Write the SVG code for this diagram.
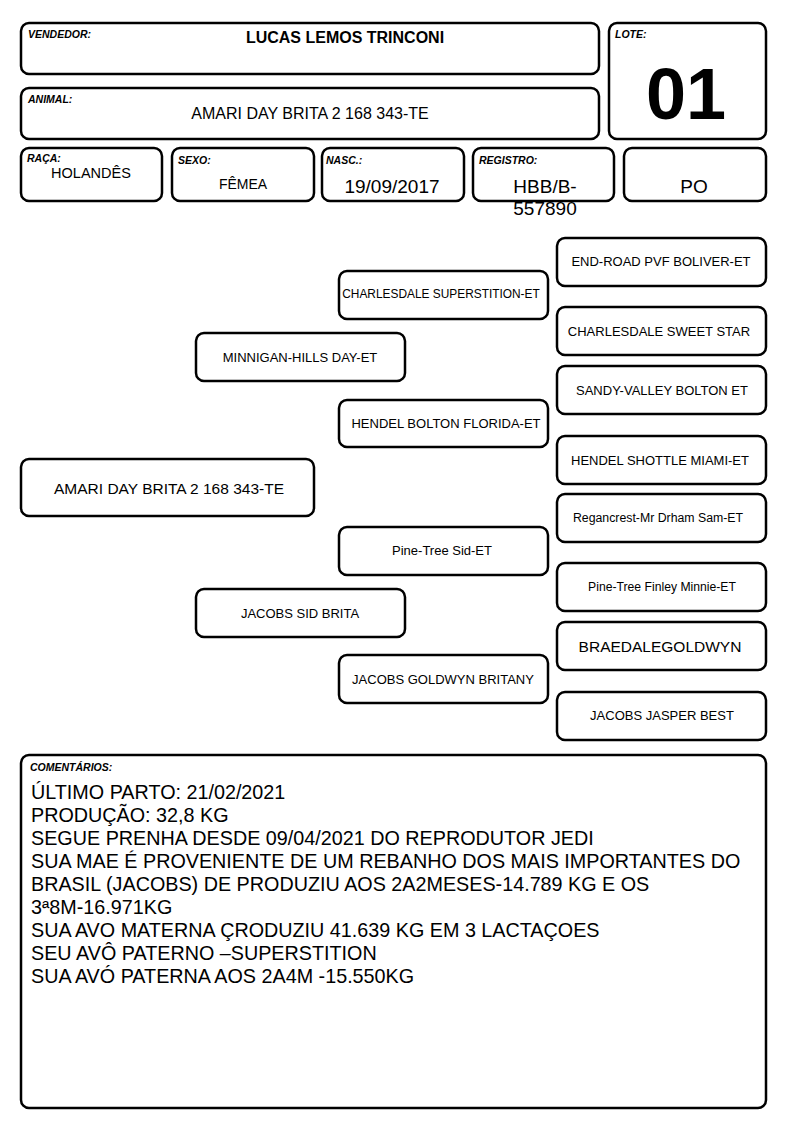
<svg xmlns="http://www.w3.org/2000/svg" width="794" height="1123" viewBox="0 0 794 1123">
<style>
.b{fill:#fff;stroke:#000;stroke-width:2.5}
.l{font-family:"Liberation Sans",Arial,sans-serif;font-size:10.5px;font-weight:bold;font-style:italic}
.t{font-family:"Liberation Sans",Arial,sans-serif;fill:#000}
.p{font-family:"Liberation Sans",Arial,sans-serif;font-size:13px;text-anchor:middle}
</style>
<rect width="794" height="1123" fill="#fff"/>
<g id="vendedor"><rect class="b" x="21" y="23" width="578" height="51" rx="8"/><text class="l" x="28" y="38">VENDEDOR:</text><text class="t" x="345" y="43" style="font-size:16px;font-weight:bold" text-anchor="middle">LUCAS LEMOS TRINCONI</text></g>
<g id="lote"><rect class="b" x="609" y="23" width="157" height="116" rx="8"/><text class="l" x="615" y="38">LOTE:</text><text class="t" x="686" y="119" style="font-size:72px;font-weight:bold" text-anchor="middle">01</text></g>
<g id="animal"><rect class="b" x="21" y="88" width="578" height="51" rx="8"/><text class="l" x="28" y="103">ANIMAL:</text><text class="t" x="310" y="119" style="font-size:16px" text-anchor="middle">AMARI DAY BRITA 2 168 343-TE</text></g>
<g id="raca"><rect class="b" x="21" y="148" width="141" height="53" rx="8"/><text class="l" x="27" y="162">RAÇA:</text><text class="t" x="91" y="178" style="font-size:14.5px" text-anchor="middle">HOLANDÊS</text></g>
<g id="sexo"><rect class="b" x="172" y="148" width="142" height="53" rx="8"/><text class="l" x="178" y="164">SEXO:</text><text class="t" x="243" y="189" style="font-size:14px" text-anchor="middle">FÊMEA</text></g>
<g id="nasc"><rect class="b" x="322" y="148" width="142" height="53" rx="8"/><text class="l" x="326" y="164">NASC.:</text><text class="t" x="392" y="193" style="font-size:19px" text-anchor="middle">19/09/2017</text></g>
<g id="registro"><rect class="b" x="473" y="148" width="141" height="53" rx="8"/><text class="l" x="479" y="164">REGISTRO:</text><text class="t" x="545" y="193" style="font-size:19px" text-anchor="middle">HBB/B-</text><text class="t" x="545" y="215" style="font-size:19px" text-anchor="middle">557890</text></g>
<g id="po"><rect class="b" x="624" y="148" width="142" height="53" rx="8"/><text class="t" x="694" y="193" style="font-size:19px" text-anchor="middle">PO</text></g>
<g id="connectors"></g>
<g id="amari"><rect class="b" x="21" y="459" width="293" height="57" rx="8"/><text class="p" x="169" y="494" style="font-size:15.5px">AMARI DAY BRITA 2 168 343-TE</text></g>
<g id="minnigan"><rect class="b" x="196" y="333" width="209" height="48" rx="8"/><text class="p" x="300" y="362">MINNIGAN-HILLS DAY-ET</text></g>
<g id="jacobs-sid-brita"><rect class="b" x="196" y="589" width="209" height="48" rx="8"/><text class="p" x="300" y="618">JACOBS SID BRITA</text></g>
<g id="superstition"><rect class="b" x="339" y="271" width="209" height="48" rx="8"/><text class="p" x="441" y="298" style="font-size:11.9px">CHARLESDALE SUPERSTITION-ET</text></g>
<g id="hendel-bolton"><rect class="b" x="339" y="400" width="209" height="47" rx="8"/><text class="p" x="446" y="428">HENDEL BOLTON FLORIDA-ET</text></g>
<g id="pine-tree-sid"><rect class="b" x="339" y="527" width="209" height="48" rx="8"/><text class="p" x="442" y="555">Pine-Tree Sid-ET</text></g>
<g id="jacobs-goldwyn"><rect class="b" x="339" y="655" width="209" height="48" rx="8"/><text class="p" x="443" y="684">JACOBS GOLDWYN BRITANY</text></g>
<g id="end-road"><rect class="b" x="557" y="238" width="209" height="48" rx="8"/><text class="p" x="661" y="266">END-ROAD PVF BOLIVER-ET</text></g>
<g id="sweet-star"><rect class="b" x="557" y="307" width="209" height="48" rx="8"/><text class="p" x="659" y="336">CHARLESDALE SWEET STAR</text></g>
<g id="sandy-valley"><rect class="b" x="557" y="366" width="209" height="48" rx="8"/><text class="p" x="662" y="395">SANDY-VALLEY BOLTON ET</text></g>
<g id="hendel-shottle"><rect class="b" x="557" y="436" width="209" height="48" rx="8"/><text class="p" x="660" y="465">HENDEL SHOTTLE MIAMI-ET</text></g>
<g id="regancrest"><rect class="b" x="557" y="494" width="209" height="48" rx="8"/><text class="p" x="658" y="522" style="font-size:12.3px">Regancrest-Mr Drham Sam-ET</text></g>
<g id="pine-tree-finley"><rect class="b" x="557" y="563" width="209" height="48" rx="8"/><text class="p" x="662" y="591" style="font-size:12.2px">Pine-Tree Finley Minnie-ET</text></g>
<g id="braedale"><rect class="b" x="557" y="622" width="209" height="48" rx="8"/><text class="p" x="660" y="652" style="font-size:15.5px">BRAEDALEGOLDWYN</text></g>
<g id="jasper"><rect class="b" x="557" y="692" width="209" height="48" rx="8"/><text class="p" x="662" y="720">JACOBS JASPER BEST</text></g>
<g id="comentarios"><rect class="b" x="21" y="755" width="745" height="353" rx="8"/><text class="l" x="30" y="771" style="font-size:10.5px">COMENTÁRIOS:</text>
<text class="t" style="font-size:19.75px" x="31"><tspan x="31" y="799">ÚLTIMO PARTO: 21/02/2021</tspan><tspan x="31" y="822">PRODUÇÃO: 32,8 KG</tspan><tspan x="31" y="845">SEGUE PRENHA DESDE 09/04/2021 DO REPRODUTOR JEDI</tspan><tspan x="31" y="868">SUA MAE É PROVENIENTE DE UM REBANHO DOS MAIS IMPORTANTES DO</tspan><tspan x="31" y="891">BRASIL (JACOBS) DE PRODUZIU AOS 2A2MESES-14.789 KG E OS</tspan><tspan x="31" y="914">3ª8M-16.971KG</tspan><tspan x="31" y="937">SUA AVO MATERNA ÇRODUZIU 41.639 KG EM 3 LACTAÇOES</tspan><tspan x="31" y="960">SEU AVÔ PATERNO –SUPERSTITION</tspan><tspan x="31" y="983">SUA AVÓ PATERNA AOS 2A4M -15.550KG</tspan></text></g>
</svg>
